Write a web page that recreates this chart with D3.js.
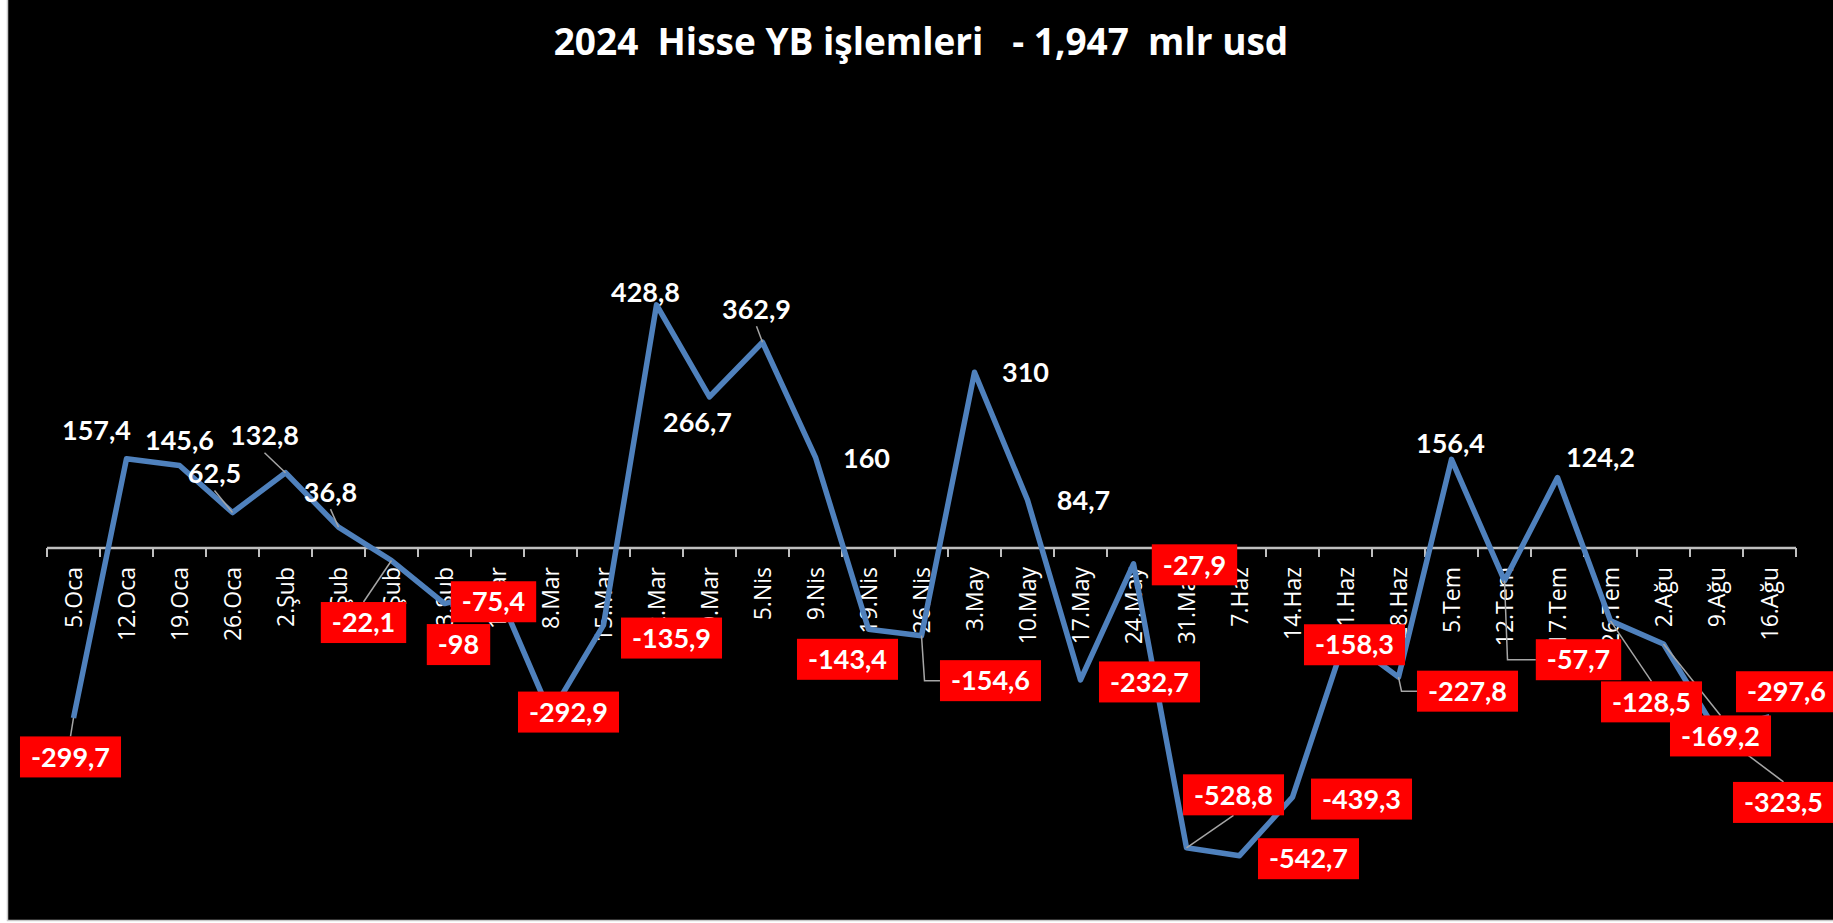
<!DOCTYPE html>
<meta charset="utf-8">
<title>2024 Hisse YB işlemleri</title>
<style>
    body { margin: 0; background: #ffffff; }
    svg { display: block; }
    .title { white-space: pre; }
</style>
<script src="https://d3js.org/d3.v7.js"></script>
<body>
<script>
    // weekly data, mlr usd
    const weeks = ["5.Oca", "12.Oca", "19.Oca", "26.Oca", "2.Şub", "9.Şub", "16.Şub", "23.Şub",
        "1.Mar", "8.Mar", "15.Mar", "22.Mar", "29.Mar", "5.Nis", "9.Nis", "19.Nis", "26.Nis",
        "3.May", "10.May", "17.May", "24.May", "31.May", "7.Haz", "14.Haz", "21.Haz", "28.Haz",
        "5.Tem", "12.Tem", "17.Tem", "26.Tem", "2.Ağu", "9.Ağu", "16.Ağu"];
    const flows = [-299.7, 157.4, 145.6, 62.5, 132.8, 36.8, -22.1, -98,
        -75.4, -292.9, -135.9, 428.8, 266.7, 362.9, 160, -143.4, -154.6,
        310, 84.7, -232.7, -27.9, -528.8, -542.7, -439.3, -158.3, -227.8,
        156.4, -57.7, 124.2, -128.5, -169.2, -323.5, -297.6];

    const titleText = "2024  Hisse YB işlemleri   - 1,947  mlr usd";

    // label placement (centre offset from the point) and leader type, like the manual excel labels
    const labelShift = [[-3, 39], [-30, -28], [0, -25], [-18, -39], [-21, -37], [-8, -35], [-28, 62], [14, 41],
        [-4, 11], [18, -2], [68, 13], [-11, -13], [-12, 25], [-6, -33], [51, 1], [-21, 30], [69, 45],
        [51, 0], [56, 0], [69, 2], [61, 1], [47, -53], [69, 3], [69, 2], [9, 7], [69, 14],
        [-1, -16], [74, 79], [43, -20], [41, 81], [57, 92], [67, 71], [17, -25]];
    // "" none, "t" to top of label, "b" to bottom, "e" elbow to left side
    const leader = ["t", "", "", "b", "b", "b", "t", "",
        "", "", "", "", "", "b", "", "", "e",
        "", "", "", "", "b", "", "", "", "e",
        "", "e", "", "t", "t", "t", ""];

    const W = 1833, H = 923;
    const fmt = v => String(v).replace(".", ",");

    const svg = d3.select("body").append("svg")
        .attr("width", W)
        .attr("height", H);

    svg.append("rect")
        .attr("x", 7.5).attr("y", -2)
        .attr("width", W).attr("height", 922.5)
        .attr("fill", "#000000")
        .attr("stroke", "#c8c8c8")
        .attr("stroke-width", 1.5);

    svg.append("text")
        .attr("class", "title")
        .attr("x", 921)
        .attr("y", 55)
        .attr("text-anchor", "middle")
        .attr("fill", "#ffffff")
        .style("font-family", "Open Sans")
        .style("font-weight", "bold")
        .style("font-size", "37px")
        .text(titleText);

    const x = d3.scaleBand()
        .domain(weeks)
        .range([47, 1796])
        .padding(0);

    const y = d3.scaleLinear()
        .domain([-600, 500])
        .range([888.2, 264.5]);

    const cx = d => x(d) + x.bandwidth() / 2;
    const data = weeks.map((w, i) => ({ week: w, value: flows[i], i: i }));

    // x axis on the zero line, ticks between categories
    const axis = svg.append("g")
        .attr("transform", `translate(0,${y(0)})`);
    axis.append("line")
        .attr("x1", x.range()[0]).attr("x2", x.range()[1])
        .attr("stroke", "#bfbfbf").attr("stroke-width", 2.5);
    axis.selectAll(".tk")
        .data(weeks.map(w => x(w)).concat([x.range()[1]]))
        .join("line")
        .attr("class", "tk")
        .attr("x1", d => d).attr("x2", d => d)
        .attr("y1", 0).attr("y2", 9)
        .attr("stroke", "#bfbfbf").attr("stroke-width", 2);

    // line
    const line = d3.line()
        .x(d => cx(d.week))
        .y(d => y(d.value));

    svg.append("path")
        .datum(data)
        .attr("d", line)
        .attr("fill", "none")
        .attr("stroke", "#4f81bd")
        .attr("stroke-width", 5.5)
        .attr("stroke-linejoin", "round");

    // label geometry
    const labelFont = "27px";
    const meas = svg.append("text")
        .style("font-family", "Lato").style("font-weight", "bold").style("font-size", labelFont);
    data.forEach(d => {
        meas.text(fmt(d.value));
        d.tw = meas.node().getComputedTextLength();
        d.lx = cx(d.week) + labelShift[d.i][0];
        d.ly = y(d.value) + labelShift[d.i][1];
        d.neg = d.value < 0;
        d.bw = d.neg ? d.tw + 22 : d.tw;
        d.bh = d.neg ? 41 : 22;
    });
    meas.remove();

    // leader lines
    svg.selectAll(".leader")
        .data(data.filter(d => leader[d.i] !== ""))
        .join("polyline")
        .attr("class", "leader")
        .attr("points", d => {
            const px = cx(d.week), py = y(d.value), t = leader[d.i];
            if (t === "t") return [[px, py], [d.lx, d.ly - d.bh / 2 - (d.neg ? 0 : 6)]].join(" ");
            if (t === "b") return [[px, py], [d.lx, d.ly + d.bh / 2 + (d.neg ? 0 : 6)]].join(" ");
            return [[px, py], [px + 3, d.ly], [d.lx - d.bw / 2, d.ly]].join(" ");
        })
        .attr("fill", "none")
        .attr("stroke", "#a6a6a6")
        .attr("stroke-width", 1.5);

    // red boxes for negative weeks
    svg.selectAll(".box")
        .data(data.filter(d => d.neg))
        .join("rect")
        .attr("class", "box")
        .attr("x", d => d.lx - d.bw / 2)
        .attr("y", d => d.ly - d.bh / 2)
        .attr("width", d => d.bw)
        .attr("height", d => d.bh)
        .attr("fill", "#ff0000");

    // category labels
    axis.selectAll(".cat")
        .data(weeks)
        .join("text")
        .attr("class", "cat")
        .attr("transform", d => `translate(${cx(d)},0) rotate(-90)`)
        .attr("x", -19)
        .attr("dy", "0.36em")
        .attr("text-anchor", "end")
        .attr("fill", "#ffffff")
        .style("font-family", "Open Sans")
        .style("font-size", "23px")
        .text(d => d);

    // value labels
    svg.selectAll(".val")
        .data(data)
        .join("text")
        .attr("class", "val")
        .attr("x", d => d.lx)
        .attr("y", d => d.ly)
        .attr("dy", "0.36em")
        .attr("text-anchor", "middle")
        .attr("fill", "#ffffff")
        .style("font-family", "Lato")
        .style("font-weight", "bold")
        .style("font-size", labelFont)
        .text(d => fmt(d.value));
</script>
</body>
